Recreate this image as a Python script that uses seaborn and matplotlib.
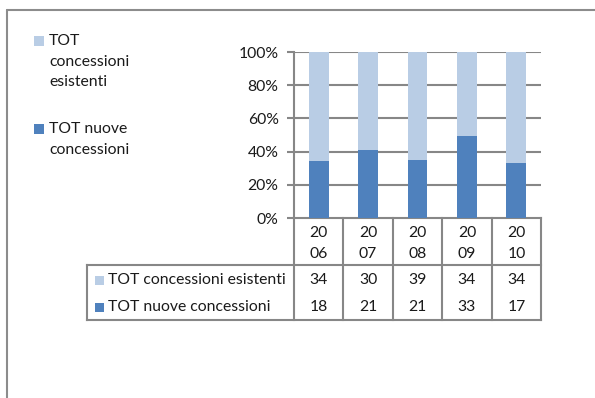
import matplotlib
matplotlib.use("Agg")
import matplotlib.pyplot as plt
from matplotlib.lines import Line2D
from matplotlib.patches import Rectangle
import pandas as pd
import seaborn as sns

# ---- data -------------------------------------------------------------
years = ["2006", "2007", "2008", "2009", "2010"]
existing = [34, 30, 39, 34, 34]
new = [18, 21, 21, 33, 17]
series_names = ["TOT concessioni esistenti", "TOT nuove concessioni"]
legend_labels = ["TOT\nconcessioni\nesistenti", "TOT nuove\nconcessioni"]
pct_ticks = [0, 20, 40, 60, 80, 100]

# ---- style ------------------------------------------------------------
LIGHT = "#B9CDE5"
DARK = "#4F81BD"
GRID = "#878787"
TEXT = "#1a1a1a"
FS = 11.3
LINE_PX = 20.5  # vertical distance between wrapped text lines, in pixels

sns.set_theme(style="white")
plt.rcParams["font.family"] = ["Lato", "DejaVu Sans"]

W, H = 595, 398
fig = plt.figure(figsize=(W / 100, H / 100), dpi=100)
fig.patch.set_facecolor("white")


def fx(x):
    return x / W


def fy(y):
    return 1 - y / H


# plot area
L, R, T, B = 294, 541, 52, 218
ax = fig.add_axes([fx(L), fy(B), fx(R - L), (B - T) / H])

df = pd.DataFrame({"year": years, "existing": existing, "new": new})
df["total"] = df["existing"] + df["new"]
df["new_pct"] = df["new"] / df["total"] * 100
df["full_pct"] = df["total"] / df["total"] * 100

sns.barplot(data=df, x="year", y="full_pct", color=LIGHT, width=0.4,
            saturation=1, errorbar=None, ax=ax, zorder=3)
sns.barplot(data=df, x="year", y="new_pct", color=DARK, width=0.4,
            saturation=1, errorbar=None, ax=ax, zorder=4)
for p in ax.patches:
    p.set_linewidth(0)

ax.set_xlim(-0.5, len(years) - 0.5)
ax.set_ylim(0, 100)
ax.set_yticks(pct_ticks)
ax.set_yticklabels([f"{t}%" for t in pct_ticks])
ax.set_xticks([])
ax.set_xlabel("")
ax.set_ylabel("")
for t in pct_ticks[1:]:
    ax.axhline(t, color=GRID, lw=1.5, zorder=1)
for side in ["top", "right"]:
    ax.spines[side].set_visible(False)
for side in ["left", "bottom"]:
    ax.spines[side].set_color(GRID)
    ax.spines[side].set_linewidth(1.5)
ax.tick_params(axis="y", left=True, length=5, width=1.5, color=GRID,
               labelsize=FS, labelcolor=TEXT, pad=6)

# ---- data table under the plot -----------------------------------------
n = len(years)
px_h = B - T


def ay(y):
    return (B - y) / px_h


def axx(x):
    return (x - L) / (R - L)


hdr_bottom = ay(265)
tbl_bottom = ay(320)
tbl_left = axx(87)
line_kw = dict(color=GRID, lw=1.5, transform=ax.transAxes, clip_on=False,
               solid_capstyle="projecting")

for k in range(n + 1):
    ax.add_line(Line2D([k / n, k / n], [0, tbl_bottom], **line_kw))
ax.add_line(Line2D([tbl_left, tbl_left], [hdr_bottom, tbl_bottom], **line_kw))
ax.add_line(Line2D([tbl_left, 1], [hdr_bottom, hdr_bottom], **line_kw))
ax.add_line(Line2D([tbl_left, 1], [tbl_bottom, tbl_bottom], **line_kw))

# year headers wrap after two characters
for i, yr in enumerate(years):
    for j, part in enumerate([yr[:2], yr[2:]]):
        ax.text((i + 0.5) / n, ay(233 + j * LINE_PX), part, ha="center",
                va="center", fontsize=FS, color=TEXT, transform=ax.transAxes)

row_y = [280, 307]
row_vals = [existing, new]
row_cols = [LIGHT, DARK]
for name, vals, col, yy in zip(series_names, row_vals, row_cols, row_y):
    ax.add_patch(Rectangle((axx(95), ay(yy + 4.5)), axx(104) - axx(95),
                           9 / px_h, color=col, transform=ax.transAxes,
                           clip_on=False, lw=0))
    ax.text(axx(108), ay(yy), name, ha="left", va="center", fontsize=FS,
            color=TEXT, transform=ax.transAxes)
    for i, v in enumerate(vals):
        ax.text((i + 0.5) / n, ay(yy), str(v), ha="center", va="center",
                fontsize=FS, color=TEXT, transform=ax.transAxes)

# ---- legend (top left) --------------------------------------------------
leg_items = [(legend_labels[0], LIGHT, 41), (legend_labels[1], DARK, 129)]
for label, col, y0 in leg_items:
    fig.patches.append(Rectangle((fx(34), fy(y0 + 5)), 10 / W, 10 / H,
                                 color=col, lw=0, transform=fig.transFigure))
    for j, line in enumerate(label.split("\n")):
        fig.text(fx(49), fy(y0 + j * LINE_PX), line, ha="left", va="center",
                 fontsize=FS, color=TEXT)

# ---- chart frame -----------------------------------------------------------
fig.add_artist(Line2D([fx(7), fx(W)], [fy(10), fy(10)], color="#8c8c8c",
                      lw=1.5, transform=fig.transFigure))
fig.add_artist(Line2D([fx(7), fx(7)], [fy(10), fy(H)], color="#8c8c8c",
                      lw=1.5, transform=fig.transFigure))

fig.savefig("out.png", dpi=100, facecolor="white")
